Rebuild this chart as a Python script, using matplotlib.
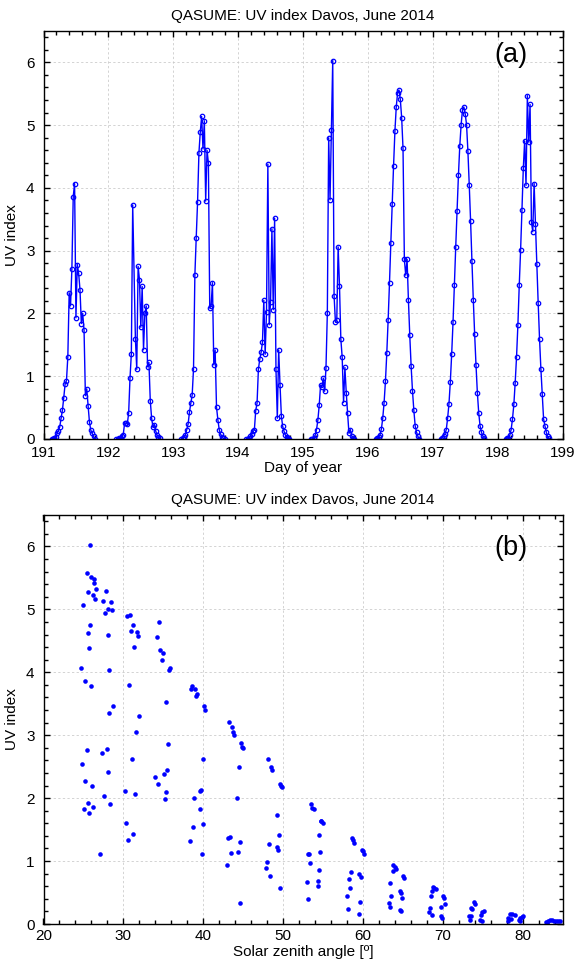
import numpy as np
import matplotlib.pyplot as plt
from matplotlib.ticker import MultipleLocator

plt.rcParams['font.family'] = ['Liberation Sans', 'DejaVu Sans']

# measurement slots (UTC hours), same for every day
hours = [3.0, 3.5, 4.0, 4.5, 5.0, 5.5, 6.0, 6.5, 7.0, 7.5, 8.0, 8.5, 9.0, 9.5,
         10.0, 10.5, 11.0, 11.5, 12.0, 12.5, 13.0, 13.5, 14.0, 14.5, 15.0, 15.5,
         16.0, 16.5, 17.0, 17.5, 18.0, 18.5, 19.0]

days = [191, 192, 193, 194, 195, 196, 197, 198]

uv_191 = [0, 0, 0.01, 0.03, 0.09, 0.13, 0.19, 0.33, 0.46, 0.66, 0.88, 0.93, 1.31,
          2.33, 2.12, 2.71, 3.86, 4.07, 1.93, 2.78, 2.64, 2.38, 1.84, 2.0, 1.73,
          0.69, 0.80, 0.53, 0.27, 0.14, 0.09, 0.04, 0.0]
uv_192 = [0, 0, 0.01, 0.02, 0.04, 0.07, 0.25, 0.25, 0.24, 0.41, 0.97, 1.36, 3.73,
          np.nan, 1.60, 1.11, 2.75, 2.54, 1.78, 2.43, 1.42, 2.0, 2.12, 1.15, 1.22,
          0.61, 0.33, 0.19, 0.23, 0.13, 0.06, 0.03, 0.01]
uv_193 = [0, 0.01, 0.03, 0.07, 0.15, 0.24, 0.43, 0.57, 0.70, 1.12, 2.61, 3.21, 3.78,
          4.56, 4.89, 5.14, 4.62, 5.07, 3.79, 4.60, 4.40, 2.09, 2.12, 2.49, 1.18,
          1.42, 0.51, 0.31, 0.15, 0.08, 0.03, 0.01, 0.0]
uv_194 = [0, 0, 0.01, 0.04, 0.08, 0.12, 0.14, 0.45, 0.57, 1.11, 1.27, 1.38, 1.54,
          2.21, 1.35, 2.03, 4.38, 1.82, 2.19, 3.35, 2.06, 3.52, 1.11, 0.33, 1.42,
          0.86, 0.36, 0.20, 0.12, 0.06, 0.03, 0.01, 0.0]
uv_195 = [0, 0, 0.02, 0.06, 0.15, 0.30, 0.54, 0.86, 0.83, 0.97, 0.76, 1.13, 2.0,
          4.80, 3.81, 4.92, 6.03, 2.28, 1.86, 1.90, 3.06, 2.44, 1.59, 1.30, 0.58,
          1.14, 0.74, 0.41, 0.09, 0.15, 0.05, 0.02, 0.0]
uv_196 = [0, 0.01, 0.03, 0.07, 0.16, 0.33, 0.58, 0.92, 1.37, 1.90, 2.49, 3.13, 3.74,
          4.35, 4.90, 5.29, 5.52, 5.56, 5.41, 5.12, 4.63, 2.86, 2.61, 2.86, 2.21,
          1.65, 1.16, 0.77, 0.46, 0.21, 0.11, 0.04, 0.0]
uv_197 = [0, 0.02, 0.05, 0.08, 0.15, 0.33, 0.56, 0.91, 1.35, 1.86, 2.45, 3.06, 3.64,
          4.20, 4.67, 5.01, 5.24, 5.29, 5.18, 5.01, 4.59, 4.05, 3.47, 2.83, 2.22,
          1.67, 1.18, 0.74, 0.42, 0.21, 0.11, 0.05, 0.02]
uv_198 = [0, 0.01, 0.02, 0.06, 0.15, 0.32, 0.55, 0.90, 1.31, 1.82, 2.45, 3.01, 3.65,
          4.31, 4.75, 4.04, 5.47, 4.73, 5.33, 3.46, 3.30, 4.07, 3.42, 2.79, 2.17,
          1.60, 1.12, 0.72, 0.32, 0.21, 0.11, 0.04, 0.01]
uv_days = [uv_191, uv_192, uv_193, uv_194, uv_195, uv_196, uv_197, uv_198]

# panel (b): solar zenith angle vs UV index
sza_pts = [
    25.83, 25.42, 26.0, 26.29, 26.29, 26.63, 27.83, 25.58, 26.17, 26.46, 27.42, 28.46,
    24.96, 28.04, 28.63, 27.75, 25.79, 25.54, 28.08, 25.71, 24.71, 28.21, 25.25, 25.92,
    28.75, 28.21, 25.42, 27.96, 27.29, 24.88, 28.08, 25.25, 26.04, 27.58, 25.63, 28.38,
    25.13, 26.17, 25.75, 27.13,
    30.42, 30.88, 31.17, 31.0, 31.67, 31.83, 31.33, 30.71, 31.92, 31.58, 31.13, 30.17,
    31.42, 30.29, 31.21, 30.58,
    34.5, 34.21, 34.63, 34.92, 34.79, 35.83, 35.71, 35.38, 35.58, 35.46, 35.13, 34.0,
    34.38, 35.29, 35.17,
    38.58, 38.5, 38.96, 39.25, 39.13, 40.08, 40.21, 40.0, 39.71, 39.58, 38.83, 39.54,
    39.92, 38.71, 38.33, 39.83,
    43.25, 43.63, 43.79, 43.92, 44.75, 44.88, 44.96, 44.46, 44.29, 43.13, 43.38, 44.63,
    43.5, 44.38, 43.04, 44.58,
    48.17, 48.5, 48.67, 49.67, 49.79, 49.92, 49.29, 49.5, 49.29, 49.38, 48.29, 48.04,
    47.92, 48.42, 49.58,
    53.5, 53.67, 53.83, 54.71, 54.79, 54.96, 54.46, 53.13, 53.29, 53.42, 54.63, 54.5,
    52.96, 54.33, 54.42, 53.08,
    58.63, 58.75, 58.92, 59.83, 59.96, 60.08, 58.54, 58.25, 58.42, 58.04, 58.17, 59.46,
    59.75, 59.67, 59.54,
    63.83, 63.96, 64.13, 63.71, 65.04, 65.17, 63.42, 64.63, 64.79, 64.96, 63.58, 63.25,
    63.38, 64.71, 64.83,
    68.79, 68.96, 69.13, 68.71, 68.54, 70.08, 70.17, 70.29, 69.75, 68.42, 68.29, 68.67,
    69.79, 69.96,
    73.88, 74.08, 73.54, 73.71, 75.13, 74.96, 74.79, 73.29, 73.5, 73.42, 74.71, 74.88,
    78.42, 78.71, 79.0, 78.21, 78.13, 78.54, 79.71, 79.88, 80.0, 79.54, 79.63,
    82.88, 83.13, 83.38, 83.63, 83.88, 84.13, 84.42, 84.67, 83.0,
]
uv_pts = [
    6.03, 5.58, 5.52, 5.48, 5.42, 5.33, 5.30, 5.28, 5.23, 5.17, 5.14, 5.12,
    5.07, 5.00, 4.99, 4.94, 4.75, 4.62, 4.60, 4.38, 4.07, 4.04, 3.86, 3.79,
    3.46, 3.36, 2.77, 2.78, 2.71, 2.54, 2.42, 2.27, 2.19, 2.04, 1.93, 1.91,
    1.82, 1.86, 1.77, 1.12,
    4.90, 4.91, 4.75, 4.65, 4.64, 4.58, 4.40, 3.80, 3.31, 3.05, 2.63, 2.11,
    2.07, 1.60, 1.43, 1.34,
    4.80, 4.56, 4.36, 4.31, 4.19, 4.07, 4.04, 3.53, 2.86, 2.44, 2.38, 2.33,
    2.22, 2.09, 1.99,
    3.78, 3.73, 3.74, 3.65, 3.63, 3.46, 3.40, 2.62, 2.13, 2.12, 2.00, 1.83,
    1.59, 1.54, 1.32, 1.12,
    3.21, 3.13, 3.05, 3.01, 2.87, 2.82, 2.79, 2.49, 2.00, 1.37, 1.38, 1.30,
    1.13, 1.15, 0.93, 0.33,
    2.62, 2.50, 2.44, 2.22, 2.20, 2.17, 1.73, 1.42, 1.22, 1.18, 1.27, 0.98,
    0.89, 0.76, 0.58,
    1.91, 1.85, 1.82, 1.64, 1.63, 1.61, 1.42, 1.12, 1.12, 0.97, 1.14, 0.86,
    0.66, 0.69, 0.61, 0.40,
    1.37, 1.33, 1.29, 1.17, 1.16, 1.12, 0.83, 0.72, 0.57, 0.45, 0.24, 0.80,
    0.74, 0.35, 0.16,
    0.94, 0.90, 0.88, 0.85, 0.76, 0.73, 0.65, 0.53, 0.50, 0.42, 0.45, 0.33,
    0.27, 0.23, 0.21,
    0.59, 0.57, 0.55, 0.53, 0.45, 0.45, 0.41, 0.31, 0.27, 0.25, 0.19, 0.15,
    0.13, 0.09,
    0.35, 0.32, 0.25, 0.24, 0.21, 0.19, 0.15, 0.13, 0.13, 0.07, 0.06, 0.04,
    0.16, 0.16, 0.15, 0.10, 0.05, 0.08, 0.09, 0.11, 0.12, 0.06, 0.04,
    0.03, 0.04, 0.06, 0.07, 0.05, 0.04, 0.04, 0.04, 0.02,
]

title = 'QASUME: UV index Davos, June 2014'
FS = 11
W, H = 574, 959


def style_axes(ax, xpad):
    ax.tick_params(which='both', direction='in', top=True, right=True,
                   labelsize=FS, width=1.0, colors='black')
    ax.tick_params(which='major', length=4.5)
    ax.tick_params(which='minor', length=3.0)
    ax.tick_params(axis='x', which='major', pad=xpad)
    ax.tick_params(axis='y', which='major', pad=6.5)
    for sp in ax.spines.values():
        sp.set_linewidth(1.0)
    ax.grid(True, which='major', linestyle=(0, (3, 3)), color='#c8c8c8', linewidth=0.55)
    ax.set_axisbelow(True)


fig = plt.figure(figsize=(W / 100, H / 100), dpi=100)
left, right = 43.5, 562.5
ax1 = fig.add_axes([left / W, 1 - 439 / H, (right - left) / W, (439 - 31) / H])
ax2 = fig.add_axes([left / W, 1 - 924 / H, (right - left) / W, (924 - 515) / H])

# (a) time series
hrs = np.array(hours)
for d, uv in zip(days, uv_days):
    uv = np.array(uv, dtype=float)
    ok = ~np.isnan(uv)
    t = d + hrs[ok] / 24.0
    ax1.plot(t, uv[ok], '-o', color='#0000ff', lw=1.0, ms=3.2,
             mfc='none', mec='#0000ff', mew=0.9)

ax1.set_xlim(191, 199)
ax1.set_ylim(0, 6.5)
ax1.xaxis.set_major_locator(MultipleLocator(1))
ax1.xaxis.set_minor_locator(MultipleLocator(0.2))
ax1.yaxis.set_major_locator(MultipleLocator(1))
ax1.yaxis.set_minor_locator(MultipleLocator(0.2))
style_axes(ax1, 5.0)
ax1.set_xlabel('Day of year', fontsize=FS, labelpad=0.5)
ax1.set_ylabel('UV index', fontsize=FS, labelpad=5)
ax1.set_title(title, fontsize=FS, pad=8)
ax1.text(0.9, 0.94, '(a)', transform=ax1.transAxes, fontsize=19.5,
         ha='center', va='center')

# (b) UV index vs solar zenith angle
ax2.plot(sza_pts, uv_pts, 'o', color='#0000ff', ms=3.3, mec='none')
ax2.set_xlim(20, 85)
ax2.set_ylim(0, 6.5)
ax2.xaxis.set_major_locator(MultipleLocator(10))
ax2.xaxis.set_minor_locator(MultipleLocator(2))
ax2.yaxis.set_major_locator(MultipleLocator(1))
ax2.yaxis.set_minor_locator(MultipleLocator(0.2))
style_axes(ax2, 3.5)
ax2.set_xlabel('Solar zenith angle [º]', fontsize=FS, labelpad=1.5)
ax2.set_ylabel('UV index', fontsize=FS, labelpad=5)
ax2.set_title(title, fontsize=FS, pad=8)
ax2.text(0.9, 0.92, '(b)', transform=ax2.transAxes, fontsize=19.5,
         ha='center', va='center')

fig.savefig('out.png', dpi=100)
